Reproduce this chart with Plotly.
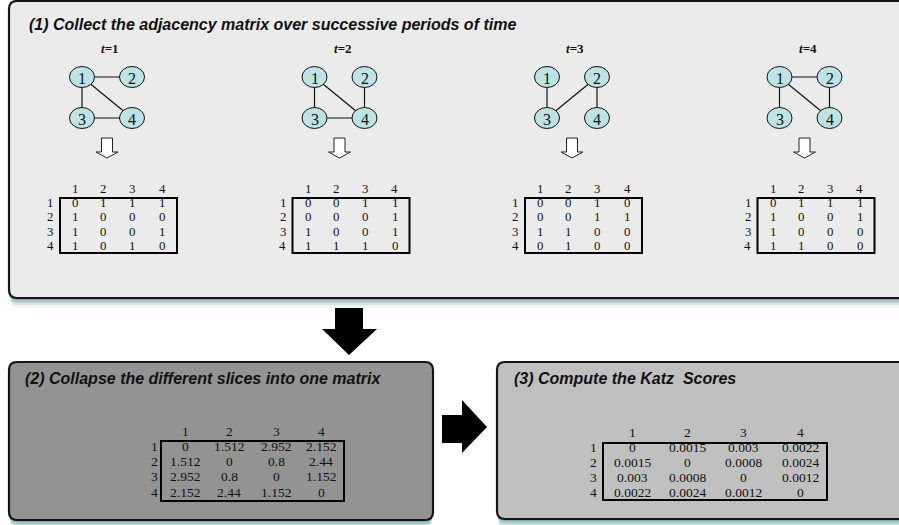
import plotly.graph_objects as go

# ---------------- data ----------------
node_labels = ["1", "2", "3", "4"]
time_labels = ["1", "2", "3", "4"]
adj_t1 = [[0, 1, 1, 1], [1, 0, 0, 0], [1, 0, 0, 1], [1, 0, 1, 0]]
adj_t2 = [[0, 0, 1, 1], [0, 0, 0, 1], [1, 0, 0, 1], [1, 1, 1, 0]]
adj_t3 = [[0, 0, 1, 0], [0, 0, 1, 1], [1, 1, 0, 0], [0, 1, 0, 0]]
adj_t4 = [[0, 1, 1, 1], [1, 0, 0, 1], [1, 0, 0, 0], [1, 1, 0, 0]]
collapsed = [[0, 1.512, 2.952, 2.152],
             [1.512, 0, 0.8, 2.44],
             [2.952, 0.8, 0, 1.152],
             [2.152, 2.44, 1.152, 0]]
katz = [[0, 0.0015, 0.003, 0.0022],
        [0.0015, 0, 0.0008, 0.0024],
        [0.003, 0.0008, 0, 0.0012],
        [0.0022, 0.0024, 0.0012, 0]]
title1 = "(1) Collect the adjacency matrix over successive periods of time"
title2 = "(2) Collapse the different slices into one matrix"
title3 = "(3) Compute the Katz  Scores"

adjs = [adj_t1, adj_t2, adj_t3, adj_t4]

SERIF = "Liberation Serif, Times New Roman, serif"
SANS = "Liberation Sans, Arial, sans-serif"

shapes = []
annotations = []


def rrect_path(x0, y0, x1, y1, r):
    return (f"M {x0+r},{y0} L {x1-r},{y0} Q {x1},{y0} {x1},{y0+r} "
            f"L {x1},{y1-r} Q {x1},{y1} {x1-r},{y1} L {x0+r},{y1} "
            f"Q {x0},{y1} {x0},{y1-r} L {x0},{y0+r} Q {x0},{y0} {x0+r},{y0} Z")


def panel(x0, y0, x1, y1, fill):
    # soft teal shadow
    for k, op in enumerate([0.45, 0.3, 0.18, 0.09]):
        d = 2 + k * 2.5
        shapes.append(dict(type="path", path=rrect_path(x0 + 1, y0 + d, x1 - 1, y1 + d, 8),
                           fillcolor=f"rgba(70,140,135,{op})", line=dict(width=0),
                           layer="below"))
    shapes.append(dict(type="path", path=rrect_path(x0, y0, x1, y1, 8),
                       fillcolor=fill, line=dict(color="#151515", width=2.2),
                       layer="below"))


def text(x, y, s, size=13, family=SERIF, color="#111", xanchor="center"):
    annotations.append(dict(x=x, y=y, xref="x", yref="y", text=s, showarrow=False,
                            font=dict(size=size, family=family, color=color),
                            xanchor=xanchor, yanchor="middle", borderpad=0))


def matrix(vals, box, colx, coly, rowy, rowx, size, fmt):
    bx0, by0, bx1, by1 = box
    shapes.append(dict(type="rect", x0=bx0, y0=by0, x1=bx1, y1=by1,
                       line=dict(color="#000", width=2), fillcolor="rgba(0,0,0,0)"))
    for j, lab in enumerate(node_labels):
        text(colx[j], coly, lab, size=size)
    for i, lab in enumerate(node_labels):
        text(rowx, rowy[i], lab, size=size)
        for j in range(4):
            text(colx[j], rowy[i], fmt(vals[i][j]), size=size)


# ---------------- panels ----------------
panel(9, 1, 910, 298, "#ebebeb")
panel(9, 362, 433, 520, "#939393")
panel(497, 362, 910, 519, "#c0c0c0")

text(28, 24, f"<b><i>{title1}</i></b>", size=16, family=SANS, xanchor="left")
text(24, 378, f"<b><i>{title2}</i></b>", size=16, family=SANS, xanchor="left")
text(513, 378, f"<b><i>{title3}</i></b>", size=16, family=SANS, xanchor="left")

# ---------------- graphs + adjacency matrices ----------------
STEP = 232.5
for k, adj in enumerate(adjs):
    gx = 82 + STEP * k
    pos = {0: (gx, 77), 1: (gx + 50, 77), 2: (gx, 118), 3: (gx + 50, 118)}
    text(gx + 28, 48, f"<b><i>t</i>={time_labels[k]}</b>", size=13)
    for i in range(4):
        for j in range(i + 1, 4):
            if adj[i][j]:
                (xa, ya), (xb, yb) = pos[i], pos[j]
                shapes.append(dict(type="line", x0=xa, y0=ya, x1=xb, y1=yb,
                                   line=dict(color="#111", width=1.2)))
    for i in range(4):
        cx, cy = pos[i]
        shapes.append(dict(type="circle", x0=cx - 12.5, x1=cx + 12.5, y0=cy - 10.5, y1=cy + 10.5,
                           fillcolor="#bde3e4", line=dict(color="#111", width=1)))
        text(cx, cy + 1, node_labels[i], size=16)
    # hollow down arrow
    ax = gx + 25
    shapes.append(dict(type="path",
                       path=(f"M {ax-5.5},138 L {ax+5.5},138 L {ax+5.5},152 L {ax+11},152 "
                             f"L {ax},158 L {ax-11},152 L {ax-5.5},152 Z"),
                       fillcolor="white", line=dict(color="#222", width=1)))
    L = 60 + STEP * k
    matrix(adj, (L, 198, L + 117, 253),
           [L + 15, L + 43, L + 72, L + 102], 188.5, [203, 217.3, 231.7, 246], L - 10,
           12.8, lambda v: f"{v:g}")

# ---------------- big arrows ----------------
shapes.append(dict(type="path",
                   path="M 335,308 L 363,308 L 363,329 L 377,329 L 349,355 L 322,329 L 335,329 Z",
                   fillcolor="black", line=dict(width=0)))
shapes.append(dict(type="path",
                   path="M 442,415 L 462,415 L 462,400 L 487,427 L 462,453 L 462,443 L 442,443 Z",
                   fillcolor="black", line=dict(width=0)))

# ---------------- collapsed & Katz matrices ----------------
matrix(collapsed, (161, 441, 344, 501), [185, 229, 276, 321], 431,
       [446, 461.3, 476.7, 492], 154, 13.5, lambda v: f"{v:g}")
matrix(katz, (603, 443, 827, 500), [632, 687, 743, 800], 432,
       [447, 462, 477, 492], 593, 13.5, lambda v: f"{v:g}")

fig = go.Figure()
fig.update_layout(
    width=899, height=525, margin=dict(l=0, r=0, t=0, b=0),
    paper_bgcolor="white", plot_bgcolor="white",
    xaxis=dict(range=[0, 899], visible=False, fixedrange=True),
    yaxis=dict(range=[525, 0], visible=False, fixedrange=True),
    shapes=shapes, annotations=annotations, showlegend=False,
)
fig.write_html("out.html", config={"displayModeBar": False},
               post_script="document.body.style.margin='0';document.body.style.overflow='hidden';")
